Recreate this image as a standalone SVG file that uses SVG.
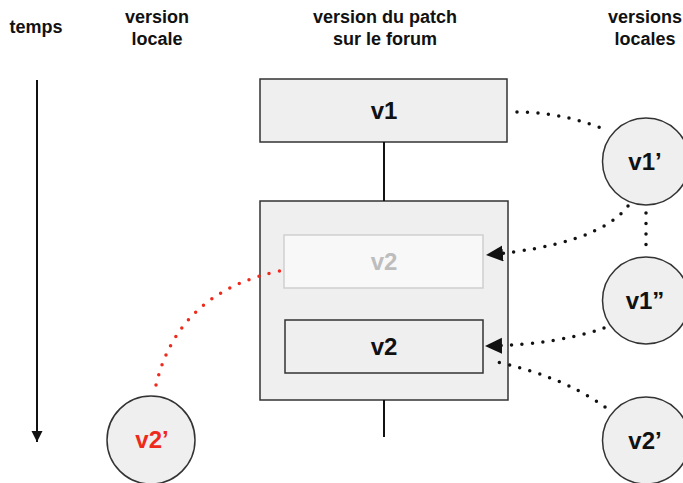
<svg xmlns="http://www.w3.org/2000/svg" width="683" height="483" viewBox="0 0 683 483">
  <style>
    text { font-family: "Liberation Sans", Arial, Helvetica, sans-serif; font-weight: bold; text-anchor: middle; }
    .head { font-size: 18px; fill: #111; }
    .label { font-size: 24px; fill: #111; }
    .box { fill: #efefef; stroke: #333; stroke-width: 1.5; }
    .ghost { fill: #f8f8f8; stroke: #cfcfcf; stroke-width: 1.5; }
    .node { fill: #efefef; stroke: #333; stroke-width: 1.5; }
    .solid { fill: none; stroke: #111; stroke-width: 2; }
    .dots { fill: none; stroke: #111; stroke-width: 3.5; stroke-linecap: round; stroke-dasharray: 0 10.5; }
    .red { stroke: #ee2a1c; }
  </style>
  <defs>
    <marker id="tri" markerUnits="userSpaceOnUse" markerWidth="18" markerHeight="17" refX="17" refY="8" orient="auto">
      <path d="M0,0 L17,8 L0,16 z" fill="#111"/>
    </marker>
    <marker id="down" markerUnits="userSpaceOnUse" markerWidth="12" markerHeight="12" refX="11" refY="5.5" orient="auto">
      <path d="M0,0 L11,5.5 L0,11 z" fill="#111"/>
    </marker>
  </defs>

  <!-- column headings -->
  <g id="headings">
    <text class="head" x="36" y="33">temps</text>
    <text class="head" x="157" y="22.5">version</text>
    <text class="head" x="157" y="44.5">locale</text>
    <text class="head" x="385" y="22.5">version du patch</text>
    <text class="head" x="385" y="44.5">sur le forum</text>
    <text class="head" x="645" y="22.5">versions</text>
    <text class="head" x="645" y="44.5">locales</text>
  </g>

  <!-- time axis -->
  <g id="time-axis">
    <line class="solid" x1="37" y1="80" x2="37" y2="442" marker-end="url(#down)"/>
  </g>

  <!-- forum patch versions -->
  <g id="forum-v1">
    <rect class="box" x="260" y="79" width="247" height="63"/>
    <text class="label" x="384" y="119">v1</text>
  </g>
  <g id="forum-v2">
    <rect class="box" x="260" y="201" width="248" height="199"/>
    <g id="forum-v2-old">
      <rect class="ghost" x="284" y="235" width="199" height="53"/>
      <text class="label" x="384" y="270" style="fill:#bdbdbd">v2</text>
    </g>
    <g id="forum-v2-new">
      <rect class="box" x="285" y="320" width="198" height="53"/>
      <text class="label" x="384" y="355">v2</text>
    </g>
  </g>

  <!-- local versions -->
  <g id="local-v1a">
    <circle class="node" cx="646" cy="161.5" r="43.5"/>
    <text class="label" x="645" y="170">v1’</text>
  </g>
  <g id="local-v1b">
    <circle class="node" cx="646" cy="300.5" r="43.5"/>
    <text class="label" x="645" y="309">v1”</text>
  </g>
  <g id="local-v2">
    <circle class="node" cx="646" cy="440.5" r="43.5"/>
    <text class="label" x="645" y="449">v2’</text>
  </g>
  <g id="own-v2">
    <circle class="node" cx="151" cy="440" r="44"/>
    <text class="label" x="152" y="448" style="fill:#ee2a1c">v2’</text>
  </g>

  <!-- connectors -->
  <g id="connectors">
    <line class="solid" x1="384" y1="142" x2="384" y2="201"/>
    <line class="solid" x1="384" y1="400" x2="384" y2="437"/>
    <path class="dots" d="M517,112 Q560,112 604,129"/>
    <path class="dots" d="M628,206 Q598,245 486,255" marker-end="url(#tri)"/>
    <path class="dots" d="M646,213 L646,247"/>
    <path class="dots" d="M604,328 Q555,345 485,346" marker-end="url(#tri)"/>
    <path class="dots" d="M605,407 Q560,375 492,361"/>
    <path class="dots red" d="M156,385 Q178,292 280,271"/>
  </g>
</svg>
